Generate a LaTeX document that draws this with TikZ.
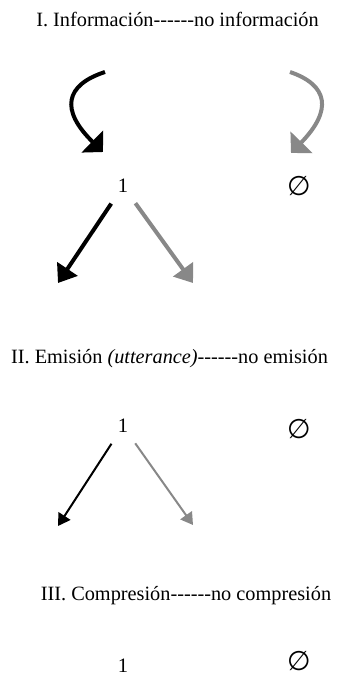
\documentclass[tikz,border=0pt]{standalone}
\usepackage{fontspec}
\setmainfont{Liberation Serif}
\newfontfamily\symfont{DejaVu Sans}
\usetikzlibrary{arrows.meta}
\definecolor{arrgray}{RGB}{136,136,136}
\newcommand{\hyph}{-{}-{}-{}-{}-{}-}
\begin{document}
\begin{tikzpicture}[x=1pt,y=-1pt,
  title/.style={anchor=base,inner sep=0pt,font=\fontsize{20.3}{22}\selectfont},
  num/.style={circle,inner sep=0pt,minimum size=42pt,font=\fontsize{20.5}{22}\selectfont},
  nul/.style={inner sep=0pt,font=\symfont\fontsize{27}{28}\selectfont},
  thickarr/.style={line width=4pt,-{Triangle[length=17pt,width=24pt]}},
  thinarr/.style={line width=2pt,-{Triangle[length=12pt,width=14pt]}},
  bigcurve/.style={line width=4pt,-{Triangle[length=15pt,width=30pt]}}]
\useasboundingbox (0,0) rectangle (340,680);
% Section I
\node[title] (t1) at (177.5,27) {I. Información\hyph no información};
\coordinate (c1s) at (105,72);
\coordinate (c1e) at (103,152);
\coordinate (c2s) at (290,72);
\coordinate (c2e) at (291,153);
\draw[bigcurve] (c1s) .. controls (65,85) and (60,110) .. (c1e);
\draw[bigcurve,arrgray] (c2s) .. controls (328,85) and (333,110) .. (c2e);
\node[num] (one1) at (123,186) {1};
\node[nul] (nul1) at (299,186) {∅};
\coordinate (l1) at (58,283);
\coordinate (r1) at (193,283);
\draw[thickarr] (one1) -- (l1);
\draw[thickarr,arrgray] (one1) -- (r1);
% Section II
\node[title] (t2) at (169.5,363) {II. Emisión \textit{(utterance)}\hyph no emisión};
\node[num] (one2) at (123,426) {1};
\node[nul] (nul2) at (299,429) {∅};
\coordinate (l2) at (58,526);
\coordinate (r2) at (193,525);
\draw[thinarr] (one2) -- (l2);
\draw[thinarr,arrgray] (one2) -- (r2);
% Section III
\node[title] (t3) at (186,600) {III. Compresión\hyph no compresión};
\node[num] (one3) at (123,666) {1};
\node[nul] (nul3) at (299,661) {∅};
\end{tikzpicture}
\end{document}
